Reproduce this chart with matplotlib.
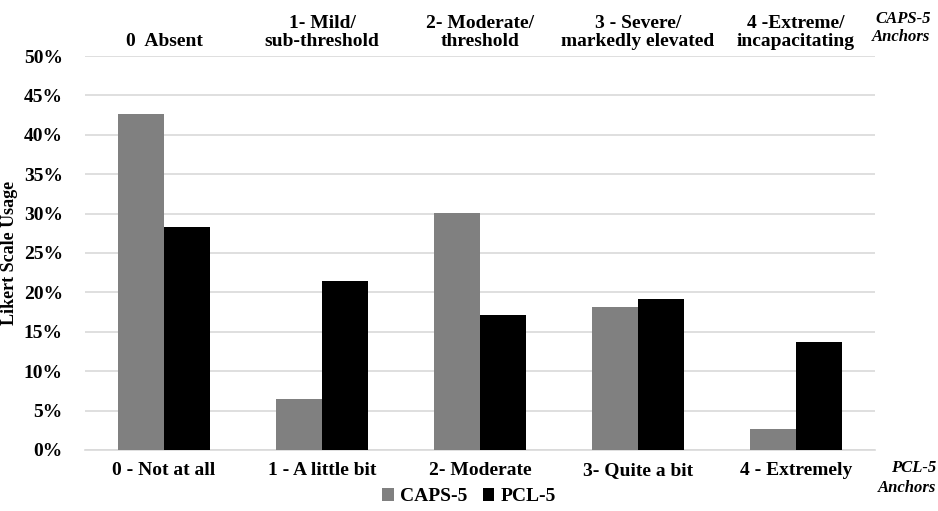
import matplotlib
matplotlib.use("Agg")
import matplotlib.pyplot as plt
import numpy as np

# данные
pcl_labels = ["0 - Not at all", "1 - A little bit", "2- Moderate", "3- Quite a bit", "4 - Extremely"]
caps_labels = ["0  Absent", "1- Mild/\nsub-threshold", "2- Moderate/\nthreshold",
               "3 - Severe/\nmarkedly elevated", "4 -Extreme/\nincapacitating"]
caps5 = [42.6, 6.5, 30.1, 18.1, 2.7]
pcl5 = [28.3, 21.4, 17.1, 19.2, 13.7]

plt.rcParams["font.family"] = ["Liberation Serif", "DejaVu Serif"]
plt.rcParams["font.weight"] = "bold"

fig = plt.figure(figsize=(9.38, 5.11), dpi=100)
ax = fig.add_axes([0.0906, 0.1194, 0.8422, 0.771])

x = np.arange(len(caps5))
w = 0.29
ax.bar(x - w / 2, caps5, w, color="#808080", label="CAPS-5", zorder=3)
ax.bar(x + w / 2, pcl5, w, color="#000000", label="PCL-5", zorder=3)

ax.set_xlim(-0.5, 4.5)
ax.set_ylim(0, 50)
ax.set_yticks(np.arange(0, 51, 5))
ax.set_yticklabels([f"{v}%" for v in range(0, 51, 5)], fontsize=14, fontweight="bold")
ax.yaxis.grid(True, color="#d9d9d9", lw=1.2, zorder=0)
ax.tick_params(axis="y", length=0, pad=16)
for s in ["top", "right", "left"]:
    ax.spines[s].set_visible(False)
ax.spines["bottom"].set_color("#d9d9d9")
ax.spines["bottom"].set_linewidth(1.2)

ax.set_xticks(x)
ax.set_xticklabels(pcl_labels, fontsize=14, fontweight="bold")
ax.tick_params(axis="x", length=0, pad=9)
ax.set_ylabel("Likert Scale Usage", fontsize=13, fontweight="bold")
ax.yaxis.set_label_coords(-0.085, 0.5)

# верхняя ось с якорями CAPS-5
top = ax.secondary_xaxis("top")
top.set_xticks(x)
top.set_xticklabels(caps_labels, fontsize=14, fontweight="bold", linespacing=1.15)
top.tick_params(length=0, pad=4)
top.spines["top"].set_visible(False)

fig.text(0.992, 0.945, "CAPS-5\nAnchors", ha="right", va="center", fontsize=12,
         fontweight="bold", style="italic", linespacing=1.2)
fig.text(0.998, 0.065, "PCL-5\nAnchors", ha="right", va="center", fontsize=12,
         fontweight="bold", style="italic", linespacing=1.3)

fig.legend(loc="center", bbox_to_anchor=(0.5, 0.028), ncol=2, frameon=False,
           handlelength=0.6, handleheight=0.6, handletextpad=0.3,
           columnspacing=0.8, prop={"weight": "bold", "size": 14})

fig.savefig("out.png", dpi=100)
